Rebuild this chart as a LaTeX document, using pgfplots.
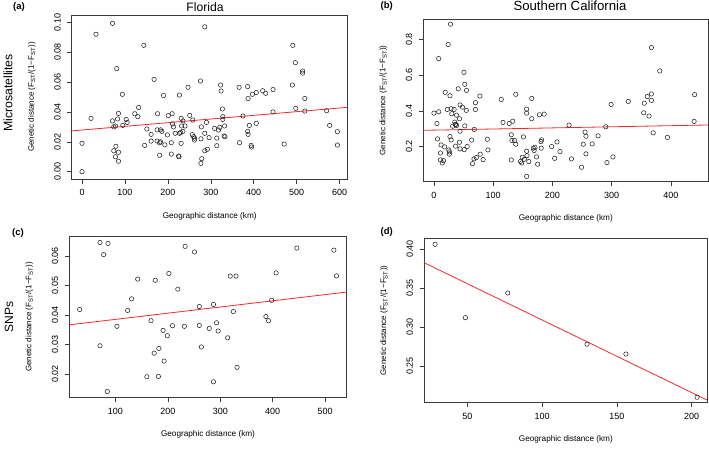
\documentclass[border=0pt]{standalone}
\usepackage{pgfplots}
\pgfplotsset{compat=1.18}
\usepackage{fontspec}
\setmainfont{Liberation Sans}
\definecolor{regred}{RGB}{245,40,40}
\definecolor{axgray}{RGB}{60,60,60}
\pgfplotsset{
  rstyle/.style={
    scale only axis, anchor=south west,
    axis line style={line width=0.6pt, axgray},
    tick style={axgray, line width=0.5pt},
    tick align=outside, major tick length=4.5pt,
    xtick pos=bottom, ytick pos=left,
    minor tick num=0,
    scaled x ticks=false, scaled y ticks=false,
    tick label style={font=\fontsize{9}{10}\selectfont},
    yticklabel style={rotate=90, anchor=south},
    xticklabel shift=2.5pt, yticklabel shift=3pt,
    /pgf/number format/.cd, assume math mode=true, 1000 sep={},
    /pgfplots/.cd,
    every axis x label/.style={at={(axis description cs:0.5,0)}, yshift=-37pt, anchor=center, font=\fontsize{8.2}{10}\selectfont},
    every axis y label/.style={at={(axis description cs:0,0.5)}, xshift=-40pt, rotate=90, anchor=center, font=\fontsize{8}{10}\selectfont},
    xlabel={Geographic distance (km)},
    ylabel={Genetic distance (F\textsubscript{ST}/(1−F\textsubscript{ST}))},
  },
  yfmt/.style={yticklabel style={/pgf/number format/.cd, fixed, fixed zerofill, precision=#1}},
  pts/.style={only marks, mark=o, mark size=2.2pt, mark options={line width=0.55pt, black!85}},
  reg/.style={no marks, regred, line width=0.8pt},
}
\begin{document}
\begin{tikzpicture}
\path[use as bounding box] (0,0) rectangle (709pt,448pt);
% ---------------- (a) Florida microsatellites
\begin{axis}[rstyle, yfmt=2, at={(71.7pt,269pt)}, width=276pt, height=164pt,
  xmin=-24, xmax=619, ymin=-0.0049, ymax=0.1049,
  xtick={0,100,200,300,400,500,600},
  ytick={0,0.02,0.04,0.06,0.08,0.1}]
\addplot[pts] table {
x y
0 0.000
0 0.019
21 0.0357
32.6 0.092
71 0.0993
81 0.069
71 0.034
74 0.030
78 0.0306
83 0.0353
85 0.039
74 0.014
79 0.017
78 0.010
85 0.013
85 0.007
94 0.0518
95 0.031
103 0.035
105 0.033
123 0.0388
130 0.0368
132 0.043
144 0.0846
146 0.0176
151 0.0286
161 0.025
161 0.0205
168 0.0618
176 0.0388
175 0.028
175 0.0205
181 0.0194
183 0.028
186 0.027
181 0.011
183 0.020
190 0.051
193 0.018
199 0.0246
201 0.0375
208 0.0194
208 0.0118
210 0.0388
211 0.032
213 0.030
217 0.0257
225 0.0105
226 0.010
227 0.0513
227 0.0257
230 0.0263
231 0.0357
232 0.0306
231 0.019
235 0.034
235 0.027
240 0.0306
247 0.0565
251 0.0377
257 0.0248
258 0.0346
260 0.0234
262 0.0225
262 0.0212
276 0.0607
278 0.030
277 0.022
279 0.0087
277 0.0056
286 0.097
286 0.0257
286 0.014
290 0.033
292 0.015
296 0.0228
309 0.029
314 0.0174
314 0.0225
318 0.0279
321 0.0297
323 0.058
324 0.054
327 0.042
328 0.0368
328 0.035
331 0.0239
332 0.0306
333 0.0234
366 0.0565
367 0.0194
375 0.0373
386 0.057
386 0.027
387 0.025
387 0.049
390 0.031
394 0.0176
395 0.0165
397 0.0518
406 0.053
406 0.0324
421 0.0542
428 0.0525
445 0.055
445 0.040
471 0.0185
491 0.0846
490 0.058
497 0.073
498 0.0424
514 0.0674
514 0.066
519 0.049
519 0.0406
570 0.0408
577 0.031
595 0.0268
595 0.0178
};
\addplot[reg] coordinates {(-24,0.0273) (619,0.0431)};
\end{axis}
% ---------------- (b) Southern California microsatellites
\begin{axis}[rstyle, yfmt=1, at={(423.3pt,266.3pt)}, width=285pt, height=162.7pt,
  xmin=-18, xmax=463, ymin=0.003, ymax=0.915,
  xtick={0,100,200,300,400},
  ytick={0.2,0.4,0.6,0.8}]
\addplot[pts] table {
x y
0 0.3875
8 0.395
5 0.329
6 0.243
8 0.693
12 0.209
11 0.164
11 0.125
16 0.121
14 0.108
18 0.198
19 0.504
22.5 0.408
24 0.772
28 0.886
27 0.485
25 0.181
26 0.170
26 0.157
27 0.256
29 0.237
29 0.412
30 0.384
31.5 0.314
34 0.408
35 0.337
36 0.324
37 0.324
38 0.318
36.5 0.202
38 0.376
41 0.524
43 0.356
44 0.433
43 0.224
44 0.286
44 0.187
48 0.421
50.6 0.616
52 0.549
52 0.316
51 0.183
55 0.515
54.6 0.403
56 0.200
63.6 0.236
65 0.104
67.5 0.131
68 0.296
70 0.408
70 0.446
71.4 0.138
77.6 0.483
78 0.157
83 0.127
90 0.241
91 0.181
113.6 0.464
116.5 0.335
127 0.329
130.5 0.266
130.5 0.125
133 0.342
131.6 0.234
136 0.234
138 0.213
138 0.493
151 0.254
146 0.117
148 0.108
149 0.140
152.5 0.129
156.4 0.410
156.4 0.3875
156.4 0.174
157 0.149
156.4 0.033
160 0.116
165 0.470
165 0.356
167.6 0.191
169 0.178
170.5 0.196
173 0.142
175 0.101
178 0.378
180.6 0.228
181.7 0.2375
181 0.191
186 0.382
198.6 0.200
203.7 0.134
207.6 0.226
212.7 0.172
228 0.320
232 0.131
249 0.084
252 0.213
255 0.281
256.5 0.258
256.5 0.159
267 0.215
277 0.260
290 0.311
292 0.110
299 0.436
302 0.142
328 0.453
354 0.389
355 0.443
360 0.480
363 0.371
367 0.755
367 0.495
367 0.459
370 0.277
381 0.624
394 0.251
440 0.491
439 0.341
};
\addplot[reg] coordinates {(-18,0.291) (463,0.321)};
\end{axis}
% ---------------- (c) Florida SNPs
\begin{axis}[rstyle, yfmt=2, at={(69.3pt,50.3pt)}, width=277.4pt, height=161.7pt,
  xmin=12.2, xmax=541, ymin=0.012, ymax=0.0668,
  xtick={100,200,300,400,500},
  ytick={0.02,0.03,0.04,0.05,0.06}]
\addplot[pts] table {
x y
32 0.0419
70.7 0.0646
77.7 0.0605
86 0.0643
70.7 0.0296
84.7 0.0141
103 0.0362
123.5 0.0416
131 0.0455
142.6 0.0522
160 0.0191
168 0.0381
174 0.0271
176 0.0518
182 0.0192
183 0.0287
191 0.0348
193 0.0244
199 0.0330
202 0.0541
209 0.0364
219 0.0488
231.6 0.0362
233 0.0633
251 0.0614
260 0.0429
260 0.0365
264 0.0292
279 0.0355
287 0.0436
287 0.0174
293 0.0374
296 0.0346
314 0.0323
319 0.0532
325 0.0412
330 0.0532
332 0.0223
387 0.0395
392 0.0381
398 0.0450
406.5 0.0543
446 0.0627
516.5 0.0620
521.6 0.0533
};
\addplot[reg] coordinates {(12.2,0.0367) (541,0.0478)};
\end{axis}
% ---------------- (d) Southern California SNPs
\begin{axis}[rstyle, yfmt=2, at={(424pt,45.3pt)}, width=283.7pt, height=164.4pt,
  xmin=21, xmax=210.7, ymin=0.203, ymax=0.4137,
  xtick={50,100,150,200},
  ytick={0.25,0.30,0.35,0.40}]
\addplot[pts] table {
x y
28.4 0.406
48.7 0.312
77 0.3436
130 0.278
156 0.2654
203.6 0.210
};
\addplot[reg] coordinates {(21,0.3825) (210.7,0.206)};
\end{axis}
% ---------------- annotations
\node[font=\fontsize{12.2}{14}\selectfont] at (205pt,441pt) {Florida};
\node[font=\fontsize{13.2}{14}\selectfont] at (570pt,442pt) {Southern California};
\node[font=\bfseries\fontsize{9.5}{10}\selectfont] at (19pt,441pt) {(a)};
\node[font=\bfseries\fontsize{9.5}{10}\selectfont] at (386.7pt,442pt) {(b)};
\node[font=\bfseries\fontsize{9.5}{10}\selectfont] at (18pt,215pt) {(c)};
\node[font=\bfseries\fontsize{9.5}{10}\selectfont] at (386.7pt,216.3pt) {(d)};
\node[rotate=90, font=\fontsize{12.3}{13}\selectfont] at (8pt,355pt) {Microsatellites};
\node[rotate=90, font=\fontsize{12}{13}\selectfont] at (9pt,131.3pt) {SNPs};
\end{tikzpicture}
\end{document}
